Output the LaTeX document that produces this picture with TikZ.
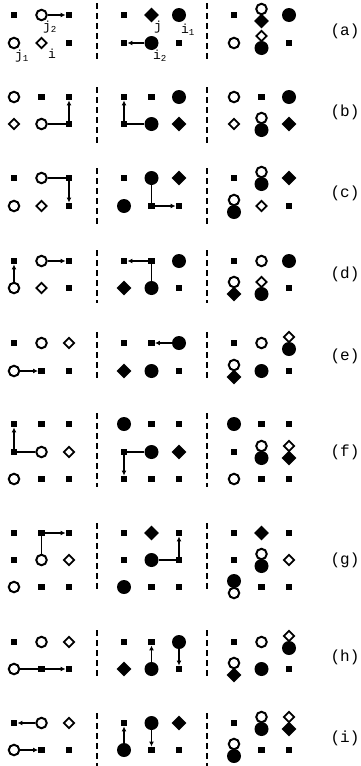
\documentclass[tikz,border=0pt]{standalone}
\usepackage{fontspec}
\setmonofont{Liberation Mono}
\usepackage{tikz}
\usetikzlibrary{arrows.meta, shapes.geometric}

\begin{document}
\begin{tikzpicture}[x=1pt, y=-1pt,
    sq/.style={fill=black, minimum size=6.5pt, inner sep=0pt},
    oc/.style={circle, draw, line width=2pt, fill=white, minimum size=10.5pt, inner sep=0pt},
    fc/.style={circle, fill=black, minimum size=14pt, inner sep=0pt},
    od/.style={diamond, draw, line width=1.8pt, fill=white, minimum size=11pt, inner sep=0pt},
    fd/.style={diamond, fill=black, minimum size=15pt, inner sep=0pt},
    arr/.style={-{Latex[length=5pt, width=5pt]}, line width=1.8pt},
    sep/.style={line width=1.3pt, dash pattern=on 5.5pt off 4.5pt},
    lbl/.style={font=\ttfamily\fontsize{13}{13}\selectfont, inner sep=0pt},
    tag/.style={font=\ttfamily\fontsize{16}{16}\selectfont, inner sep=0pt}]
    \useasboundingbox (0,0) rectangle (361,766);

    % (a)
    \draw[sep] (97,3) -- (97,63);
    \draw[sep] (207,3) -- (207,63);
    \node[sq] (aL11) at (14,15) {};
    \node[oc] (aL12) at (41.5,15) {};
    \node[sq] (aL13) at (69,15) {};
    \node[oc] (aL21) at (14,43) {};
    \node[od] (aL22) at (41.5,43) {};
    \node[sq] (aL23) at (69,43) {};
    \draw[arr] (aL12) -- (aL13);
    \node[lbl] (lj2) at (50,27) {j\textsubscript{2}};
    \node[lbl] (lj1) at (22,56) {j\textsubscript{1}};
    \node[lbl] (li) at (52,54) {i};
    \node[sq] (aM11) at (124,15) {};
    \node[fd] (aM12) at (151.5,15) {};
    \node[fc] (aM13) at (179,15) {};
    \node[sq] (aM21) at (124,43) {};
    \node[fc] (aM22) at (151.5,43) {};
    \node[sq] (aM23) at (179,43) {};
    \draw[arr] (aM22) -- (aM21);
    \node[lbl] (lj) at (158,27) {j};
    \node[lbl] (li1) at (188,30) {i\textsubscript{1}};
    \node[lbl] (li2) at (160,56) {i\textsubscript{2}};
    \node[sq] (aR11) at (234,15) {};
    \node[fd] (aR12b) at (261.5,21) {};
    \node[oc] (aR12t) at (261.5,9) {};
    \node[fc] (aR13) at (289,15) {};
    \node[oc] (aR21) at (234,43) {};
    \node[fc] (aR22b) at (261.5,48) {};
    \node[od] (aR22t) at (261.5,36) {};
    \node[sq] (aR23) at (289,43) {};
    \node[tag] (ta) at (345,31) {(a)};

    % (b)
    \draw[sep] (97,87) -- (97,143);
    \draw[sep] (207,87) -- (207,143);
    \node[oc] (bL11) at (14,97) {};
    \node[sq] (bL12) at (41.5,97) {};
    \node[sq] (bL13) at (69,97) {};
    \node[od] (bL21) at (14,124) {};
    \node[oc] (bL22) at (41.5,124) {};
    \node[sq] (bL23) at (69,124) {};
    \draw[arr] (bL22) -- (bL23.center) -- (bL13);
    \node[sq] (bM11) at (124,97) {};
    \node[sq] (bM12) at (151.5,97) {};
    \node[fc] (bM13) at (179,97) {};
    \node[sq] (bM21) at (124,124) {};
    \node[fc] (bM22) at (151.5,124) {};
    \node[fd] (bM23) at (179,124) {};
    \draw[arr] (bM22) -- (bM21.center) -- (bM11);
    \node[oc] (bR11) at (234,97) {};
    \node[sq] (bR12) at (261.5,97) {};
    \node[fc] (bR13) at (289,97) {};
    \node[od] (bR21) at (234,124) {};
    \node[fc] (bR22b) at (261.5,130) {};
    \node[oc] (bR22t) at (261.5,118) {};
    \node[fd] (bR23) at (289,124) {};
    \node[tag] (tb) at (345,112) {(b)};

    % (c)
    \draw[sep] (97,168) -- (97,227);
    \draw[sep] (207,168) -- (207,227);
    \node[sq] (cL11) at (14,178) {};
    \node[oc] (cL12) at (41.5,178) {};
    \node[sq] (cL13) at (69,178) {};
    \node[oc] (cL21) at (14,206) {};
    \node[od] (cL22) at (41.5,206) {};
    \node[sq] (cL23) at (69,206) {};
    \draw[arr] (cL12) -- (cL13.center) -- (cL23);
    \node[sq] (cM11) at (124,178) {};
    \node[fc] (cM12) at (151.5,178) {};
    \node[fd] (cM13) at (179,178) {};
    \node[fc] (cM21) at (124,206) {};
    \node[sq] (cM22) at (151.5,206) {};
    \node[sq] (cM23) at (179,206) {};
    \draw[arr] (cM12) -- (cM22.center) -- (cM23);
    \node[sq] (cR11) at (234,178) {};
    \node[fc] (cR12b) at (261.5,184) {};
    \node[oc] (cR12t) at (261.5,172) {};
    \node[fd] (cR13) at (289,178) {};
    \node[fc] (cR21b) at (234,212) {};
    \node[oc] (cR21t) at (234,200) {};
    \node[od] (cR22) at (261.5,206) {};
    \node[sq] (cR23) at (289,206) {};
    \node[tag] (tc) at (345,193) {(c)};

    % (d)
    \draw[sep] (97,250) -- (97,303);
    \draw[sep] (207,250) -- (207,303);
    \node[sq] (dL11) at (14,261) {};
    \node[oc] (dL12) at (41.5,261) {};
    \node[sq] (dL13) at (69,261) {};
    \node[oc] (dL21) at (14,288) {};
    \node[od] (dL22) at (41.5,288) {};
    \node[sq] (dL23) at (69,288) {};
    \draw[arr] (dL21) -- (dL11);
    \draw[arr] (dL12) -- (dL13);
    \node[sq] (dM11) at (124,261) {};
    \node[sq] (dM12) at (151.5,261) {};
    \node[fc] (dM13) at (179,261) {};
    \node[fd] (dM21) at (124,288) {};
    \node[fc] (dM22) at (151.5,288) {};
    \node[sq] (dM23) at (179,288) {};
    \draw[arr] (dM22) -- (dM12.center) -- (dM11);
    \node[sq] (dR11) at (234,261) {};
    \node[oc] (dR12) at (261.5,261) {};
    \node[fc] (dR13) at (289,261) {};
    \node[fd] (dR21b) at (234,294) {};
    \node[oc] (dR21t) at (234,282) {};
    \node[fc] (dR22b) at (261.5,294) {};
    \node[od] (dR22t) at (261.5,282) {};
    \node[sq] (dR23) at (289,288) {};
    \node[tag] (td) at (345,274) {(d)};

    % (e)
    \draw[sep] (97,332) -- (97,382);
    \draw[sep] (207,332) -- (207,382);
    \node[sq] (eL11) at (14,343) {};
    \node[oc] (eL12) at (41.5,343) {};
    \node[od] (eL13) at (69,343) {};
    \node[oc] (eL21) at (14,371) {};
    \node[sq] (eL22) at (41.5,371) {};
    \node[sq] (eL23) at (69,371) {};
    \draw[arr] (eL21) -- (eL22);
    \node[sq] (eM11) at (124,343) {};
    \node[sq] (eM12) at (151.5,343) {};
    \node[fc] (eM13) at (179,343) {};
    \node[fd] (eM21) at (124,371) {};
    \node[fc] (eM22) at (151.5,371) {};
    \node[sq] (eM23) at (179,371) {};
    \draw[arr] (eM13) -- (eM12);
    \node[sq] (eR11) at (234,343) {};
    \node[oc] (eR12) at (261.5,343) {};
    \node[fc] (eR13b) at (289,349) {};
    \node[od] (eR13t) at (289,337) {};
    \node[fd] (eR21b) at (234,377) {};
    \node[oc] (eR21t) at (234,365) {};
    \node[fc] (eR22) at (261.5,371) {};
    \node[sq] (eR23) at (289,371) {};
    \node[tag] (te) at (345,356) {(e)};

    % (f)
    \draw[sep] (97,413) -- (97,487);
    \draw[sep] (207,413) -- (207,487);
    \node[sq] (fL11) at (14,424) {};
    \node[sq] (fL12) at (41.5,424) {};
    \node[sq] (fL13) at (69,424) {};
    \node[sq] (fL21) at (14,452) {};
    \node[oc] (fL22) at (41.5,452) {};
    \node[od] (fL23) at (69,452) {};
    \node[oc] (fL31) at (14,479) {};
    \node[sq] (fL32) at (41.5,479) {};
    \node[sq] (fL33) at (69,479) {};
    \draw[arr] (fL22) -- (fL21.center) -- (fL11);
    \node[fc] (fM11) at (124,424) {};
    \node[sq] (fM12) at (151.5,424) {};
    \node[sq] (fM13) at (179,424) {};
    \node[sq] (fM21) at (124,452) {};
    \node[fc] (fM22) at (151.5,452) {};
    \node[fd] (fM23) at (179,452) {};
    \node[sq] (fM31) at (124,479) {};
    \node[sq] (fM32) at (151.5,479) {};
    \node[sq] (fM33) at (179,479) {};
    \draw[arr] (fM22) -- (fM21.center) -- (fM31);
    \node[fc] (fR11) at (234,424) {};
    \node[sq] (fR12) at (261.5,424) {};
    \node[sq] (fR13) at (289,424) {};
    \node[sq] (fR21) at (234,452) {};
    \node[fc] (fR22b) at (261.5,458) {};
    \node[oc] (fR22t) at (261.5,446) {};
    \node[fd] (fR23b) at (289,458) {};
    \node[od] (fR23t) at (289,446) {};
    \node[oc] (fR31) at (234,479) {};
    \node[sq] (fR32) at (261.5,479) {};
    \node[sq] (fR33) at (289,479) {};
    \node[tag] (tf) at (345,452) {(f)};

    % (g)
    \draw[sep] (97,523) -- (97,593);
    \draw[sep] (207,523) -- (207,593);
    \node[sq] (gL11) at (14,533) {};
    \node[sq] (gL12) at (41.5,533) {};
    \node[sq] (gL13) at (69,533) {};
    \node[sq] (gL21) at (14,560) {};
    \node[oc] (gL22) at (41.5,560) {};
    \node[od] (gL23) at (69,560) {};
    \node[oc] (gL31) at (14,587) {};
    \node[sq] (gL32) at (41.5,587) {};
    \node[sq] (gL33) at (69,587) {};
    \draw[arr] (gL22) -- (gL12.center) -- (gL13);
    \node[sq] (gM11) at (124,533) {};
    \node[fd] (gM12) at (151.5,533) {};
    \node[sq] (gM13) at (179,533) {};
    \node[sq] (gM21) at (124,560) {};
    \node[fc] (gM22) at (151.5,560) {};
    \node[sq] (gM23) at (179,560) {};
    \node[fc] (gM31) at (124,587) {};
    \node[sq] (gM32) at (151.5,587) {};
    \node[sq] (gM33) at (179,587) {};
    \draw[arr] (gM22) -- (gM23.center) -- (gM13);
    \node[sq] (gR11) at (234,533) {};
    \node[fd] (gR12) at (261.5,533) {};
    \node[sq] (gR13) at (289,533) {};
    \node[sq] (gR21) at (234,560) {};
    \node[fc] (gR22b) at (261.5,566) {};
    \node[oc] (gR22t) at (261.5,554) {};
    \node[od] (gR23) at (289,560) {};
    \node[oc] (gR31b) at (234,593) {};
    \node[fc] (gR31t) at (234,581) {};
    \node[sq] (gR32) at (261.5,587) {};
    \node[sq] (gR33) at (289,587) {};
    \node[tag] (tg) at (345,560) {(g)};

    % (h)
    \draw[sep] (97,630) -- (97,680);
    \draw[sep] (207,630) -- (207,680);
    \node[sq] (hL11) at (14,642) {};
    \node[oc] (hL12) at (41.5,642) {};
    \node[od] (hL13) at (69,642) {};
    \node[oc] (hL21) at (14,669) {};
    \node[sq] (hL22) at (41.5,669) {};
    \node[sq] (hL23) at (69,669) {};
    \draw[arr] (hL21) -- (hL23);
    \node[sq] (hM11) at (124,642) {};
    \node[sq] (hM12) at (151.5,642) {};
    \node[fc] (hM13) at (179,642) {};
    \node[fd] (hM21) at (124,669) {};
    \node[fc] (hM22) at (151.5,669) {};
    \node[sq] (hM23) at (179,669) {};
    \draw[arr] (hM22) -- (hM12);
    \draw[arr] (hM13) -- (hM23);
    \node[sq] (hR11) at (234,642) {};
    \node[oc] (hR12) at (261.5,642) {};
    \node[fc] (hR13b) at (289,648) {};
    \node[od] (hR13t) at (289,636) {};
    \node[fd] (hR21b) at (234,675) {};
    \node[oc] (hR21t) at (234,663) {};
    \node[fc] (hR22) at (261.5,669) {};
    \node[sq] (hR23) at (289,669) {};
    \node[tag] (th) at (345,657) {(h)};

    % (i)
    \draw[sep] (97,713) -- (97,766);
    \draw[sep] (207,713) -- (207,766);
    \node[sq] (iL11) at (14,723) {};
    \node[oc] (iL12) at (41.5,723) {};
    \node[od] (iL13) at (69,723) {};
    \node[oc] (iL21) at (14,750) {};
    \node[sq] (iL22) at (41.5,750) {};
    \node[sq] (iL23) at (69,750) {};
    \draw[arr] (iL12) -- (iL11);
    \draw[arr] (iL21) -- (iL22);
    \node[sq] (iM11) at (124,723) {};
    \node[fc] (iM12) at (151.5,723) {};
    \node[fd] (iM13) at (179,723) {};
    \node[fc] (iM21) at (124,750) {};
    \node[sq] (iM22) at (151.5,750) {};
    \node[sq] (iM23) at (179,750) {};
    \draw[arr] (iM21) -- (iM11);
    \draw[arr] (iM12) -- (iM22);
    \node[sq] (iR11) at (234,723) {};
    \node[fc] (iR12b) at (261.5,729) {};
    \node[oc] (iR12t) at (261.5,717) {};
    \node[fd] (iR13b) at (289,729) {};
    \node[od] (iR13t) at (289,717) {};
    \node[fc] (iR21b) at (234,756) {};
    \node[oc] (iR21t) at (234,744) {};
    \node[sq] (iR22) at (261.5,750) {};
    \node[sq] (iR23) at (289,750) {};
    \node[tag] (ti) at (345,738) {(i)};
\end{tikzpicture}
\end{document}
